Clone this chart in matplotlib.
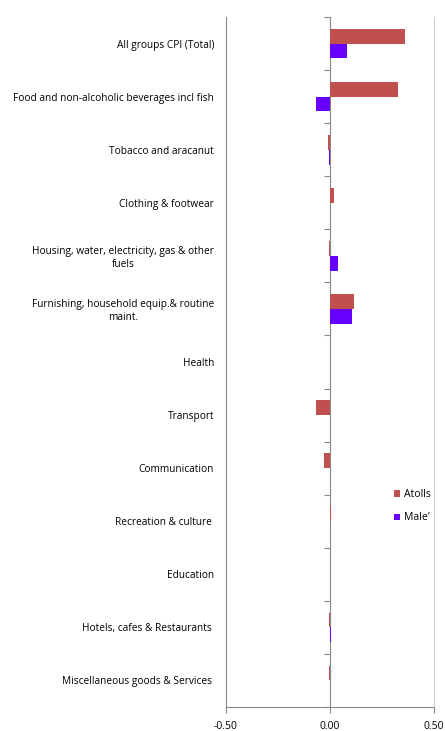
import numpy as np
import matplotlib
matplotlib.use("Agg")
import matplotlib.pyplot as plt

categories = [
    "All groups CPI (Total)",
    "Food and non-alcoholic beverages incl fish",
    "Tobacco and aracanut",
    "Clothing & footwear",
    "Housing, water, electricity, gas & other\nfuels",
    "Furnishing, household equip.& routine\nmaint.",
    "Health",
    "Transport",
    "Communication",
    "Recreation & culture ",
    "Education",
    "Hotels, cafes & Restaurants ",
    "Miscellaneous goods & Services ",
]
atolls = [0.36, 0.327, -0.01, 0.02, -0.005, 0.117, 0.0, -0.069, -0.03, 0.005, 0.0, -0.005, -0.005]
male = [0.084, -0.069, -0.005, 0.0, 0.037, 0.104, 0.0, 0.0, 0.0, 0.0, 0.0, 0.005, 0.0]
xticks = [-0.5, 0.0, 0.5]

plt.rcParams['font.family'] = ['Open Sans', 'DejaVu Sans']

fig = plt.figure(figsize=(4.45, 7.31), dpi=100)
ax = fig.add_axes([226/445, 1-707/731, 208/445, 690/731])

y = np.arange(len(categories))
h = 0.28
ax.axvline(0, color="#888888", linewidth=0.8, zorder=1)
ax.barh(y - h/2, atolls, height=h, color="#C0504D", linewidth=0, label="Atolls", zorder=3)
ax.barh(y + h/2, male, height=h, color="#6600FF", linewidth=0, label="Male'", zorder=3)

ax.set_ylim(len(categories) - 0.5, -0.5)
ax.set_xlim(-0.5, 0.5)

ax.set_yticks(y)
ax.set_yticklabels(categories, fontsize=7.3, multialignment="center")
ax.tick_params(axis="y", length=0, pad=8.5)

ax.set_xticks(xticks)
ax.set_xticklabels(["%.2f" % v for v in xticks], fontsize=7.5)
ax.tick_params(axis="x", length=4, color="#888888", pad=6)

for s in ["left", "bottom"]:
    ax.spines[s].set_color("#888888")
ax.spines["right"].set_color("#D0D0D0")
ax.spines["top"].set_visible(False)

# category axis crossing at zero (tick marks only, line drawn above)
sec = ax.secondary_yaxis(0.5)
sec.set_yticks(np.arange(len(categories) + 1) - 0.5)
sec.set_yticklabels([])
sec.tick_params(axis="y", length=4, color="#888888", direction="in")
for sp in sec.spines.values():
    sp.set_visible(False)

leg = ax.legend(loc="upper left", bbox_to_anchor=(394/445, 1-489/731), bbox_transform=fig.transFigure,
                frameon=False, fontsize=7.5, handlelength=0.6, handleheight=0.6,
                handletextpad=0.4, labelspacing=1.2, borderpad=0, borderaxespad=0)

fig.savefig("out.png", dpi=100)
